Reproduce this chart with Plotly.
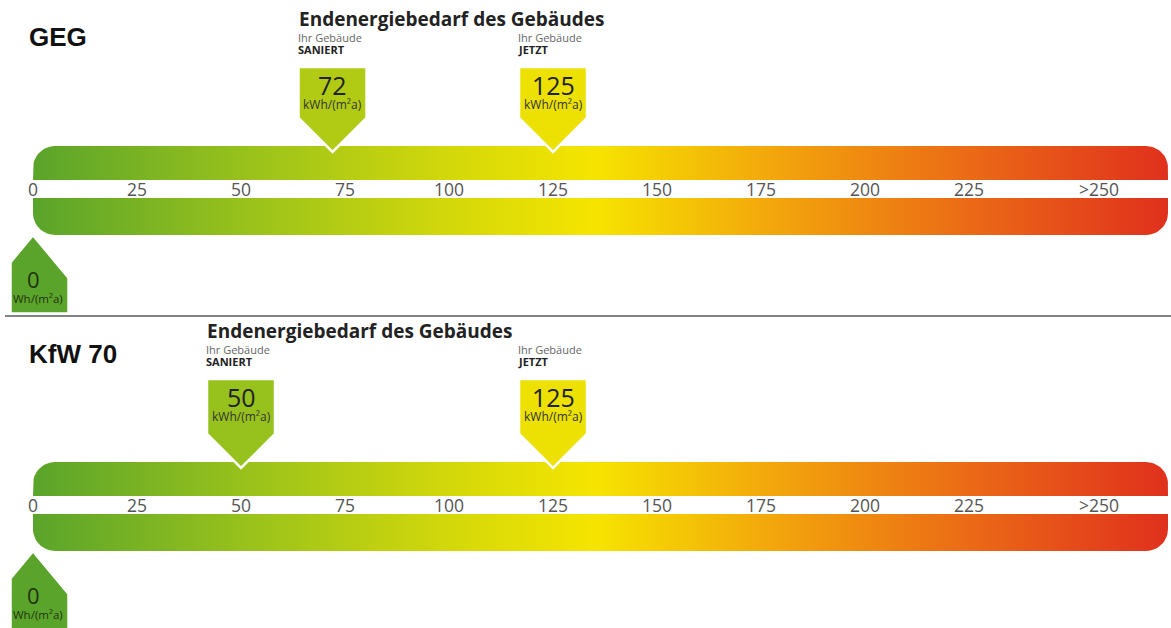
import numpy as np
import plotly.graph_objects as go
from plotly.colors import sample_colorscale

# ---------------- data ----------------
panel_titles = ["GEG", "KfW 70"]
saniert_values = [72, 50]
jetzt_values = [125, 125]
zero_values = [0, 0]
tick_values = [0, 25, 50, 75, 100, 125, 150, 175, 200, 225, 250]
tick_labels = ["0", "25", "50", "75", "100", "125", "150", "175", "200", "225", ">250"]
header_text = "Endenergiebedarf des Gebäudes"
sub_text = "Ihr Gebäude"
saniert_label = "SANIERT"
jetzt_label = "JETZT"
unit_text = "kWh/(m²a)"
gradient_values = [0, 50, 100, 135, 175, 225, 273]
gradient_colors = ["#5aa42b", "#97c11c", "#d3d80a", "#f6e400", "#f3aa0b", "#eb6a16", "#e0301d"]

# ---------------- geometry (pixels) ----------------
W, H = 1171, 628
PX0 = 33.0          # pixel of value 0
PX_PER = 4.16       # pixels per kWh/(m²a)
X_MIN = -PX0 / PX_PER
X_MAX = (W - PX0) / PX_PER
BAR_END = (1168 - PX0) / PX_PER
bar_tops = [146, 462]
marker_tops = [67, 379]
title_ys = [37, 354]
R = 22


def dxv(px):
    return px / PX_PER


def arc(cx, cy, rx, ry, a0, a1, n=14):
    t = np.radians(np.linspace(a0, a1, n))
    return list(cx + rx * np.cos(t)), list(cy + ry * np.sin(t))


colorscale = [[v / BAR_END, c] for v, c in zip(gradient_values, gradient_colors)]
colorscale[-1][0] = 1.0

fig = go.Figure()


def band(y_top, y_bot, round_top):
    rx = dxv(R)
    x0, x1 = 0.0, BAR_END
    xs, ys = [], []
    if round_top:
        xs += [x0]; ys += [y_bot]
        ax, ay = arc(x0 + rx, y_top + R, rx, R, 180, 270); xs += ax; ys += ay
        ax, ay = arc(x1 - rx, y_top + R, rx, R, 270, 360); xs += ax; ys += ay
        xs += [x1, x0]; ys += [y_bot, y_bot]
    else:
        xs += [x0, x1]; ys += [y_top, y_top]
        ax, ay = arc(x1 - rx, y_bot - R, rx, R, 0, 90); xs += ax; ys += ay
        ax, ay = arc(x0 + rx, y_bot - R, rx, R, 90, 180); xs += ax; ys += ay
        xs += [x0]; ys += [y_top]
    fig.add_trace(go.Scatter(
        x=xs, y=ys, mode="lines", fill="toself", line=dict(width=0),
        fillgradient=dict(type="horizontal", colorscale=colorscale, start=0, stop=BAR_END),
        hoverinfo="skip", showlegend=False))


def down_marker(v, top, tip):
    hw = dxv(34)
    rect_bot = tip - 34
    col = sample_colorscale(colorscale, [min(v / BAR_END, 1)])[0]
    xs = [v - hw, v + hw, v + hw, v, v - hw, v - hw]
    ys = [top, top, rect_bot, tip, rect_bot, top]
    fig.add_trace(go.Scatter(x=xs, y=ys, mode="lines", fill="toself", fillcolor=col,
                             line=dict(color="white", width=2.5), hoverinfo="skip", showlegend=False))


def up_marker(v, tip, bottom):
    hw = dxv(35)
    sh = 42
    left = (11 - PX0) / PX_PER
    col = sample_colorscale(colorscale, [v / BAR_END])[0]
    frac = (v - left) / hw
    y_left = tip + sh * min(frac, 1)
    xs = [left, v, v + hw, v + hw, left, left]
    ys = [y_left, tip, tip + sh, bottom, bottom, y_left]
    fig.add_trace(go.Scatter(x=xs, y=ys, mode="lines", fill="toself", fillcolor=col,
                             line=dict(color="white", width=1.5), hoverinfo="skip", showlegend=False))


annotations = []


def txt(x, y, text, size, color="#222", bold=False, anchor="center", family="Open Sans", xshift=0):
    if bold:
        text = "<b>" + text + "</b>"
    annotations.append(dict(x=x, y=y, xref="x", yref="y", text=text, showarrow=False,
                            xanchor=anchor, yanchor="middle", xshift=xshift,
                            font=dict(size=size, color=color, family=family)))


for i in range(2):
    bt = bar_tops[i]
    y_a, y_b, y_c, y_d = bt, bt + 34, bt + 52, bt + 89
    band(y_a, y_b, True)
    band(y_c, y_d, False)
    # tick labels in the white strip
    for tv, tl in zip(tick_values, tick_labels):
        if tl.startswith(">"):
            txt(tv, (y_b + y_c) / 2, tl, 17.5, color="#555", anchor="left", xshift=4)
        else:
            txt(tv, (y_b + y_c) / 2, tl, 17.5, color="#555")
    mt = marker_tops[i]
    tip = bt + 6
    for v, lab in [(saniert_values[i], saniert_label), (jetzt_values[i], jetzt_label)]:
        down_marker(v, mt, tip)
        txt(v, mt + 18, str(v), 25, color="#222")
        txt(v, mt + 37, unit_text, 12, color="#333")
        txt(v - dxv(37), mt - 30, sub_text, 11, color="#666", anchor="left")
        txt(v - dxv(37), mt - 18, lab, 11, color="#222", bold=True, anchor="left")
    txt(saniert_values[i] - dxv(36), mt - 48, header_text, 19, color="#222", bold=True, anchor="left")
    # zero marker under the bar
    zt = y_d + 1
    zb = 313 if i == 0 else H + 10
    up_marker(zero_values[i], zt, zb)
    txt(zero_values[i], zt + 43, str(zero_values[i]), 22, color="#223311")
    txt((11 - PX0) / PX_PER, zt + 62, unit_text[1:], 11.5,
        color="#223311", anchor="left")
    # panel title
    txt((27 - PX0) / PX_PER, title_ys[i], panel_titles[i], 26, color="#111", bold=True,
        anchor="left", family="Liberation Sans")

fig.update_layout(
    width=W, height=H, margin=dict(l=0, r=0, t=0, b=0),
    paper_bgcolor="white", plot_bgcolor="white",
    xaxis=dict(range=[X_MIN, X_MAX], visible=False, fixedrange=True),
    yaxis=dict(range=[H, 0], visible=False, fixedrange=True),
    annotations=annotations,
    shapes=[dict(type="line", xref="x", yref="y", x0=(5 - PX0) / PX_PER, x1=X_MAX,
                 y0=316, y1=316, line=dict(color="#5a5a5a", width=1.5))],
)

fig.write_html("out.html", config={"displayModeBar": False},
               post_script="document.body.style.margin='0px';document.body.style.overflow='hidden';")
